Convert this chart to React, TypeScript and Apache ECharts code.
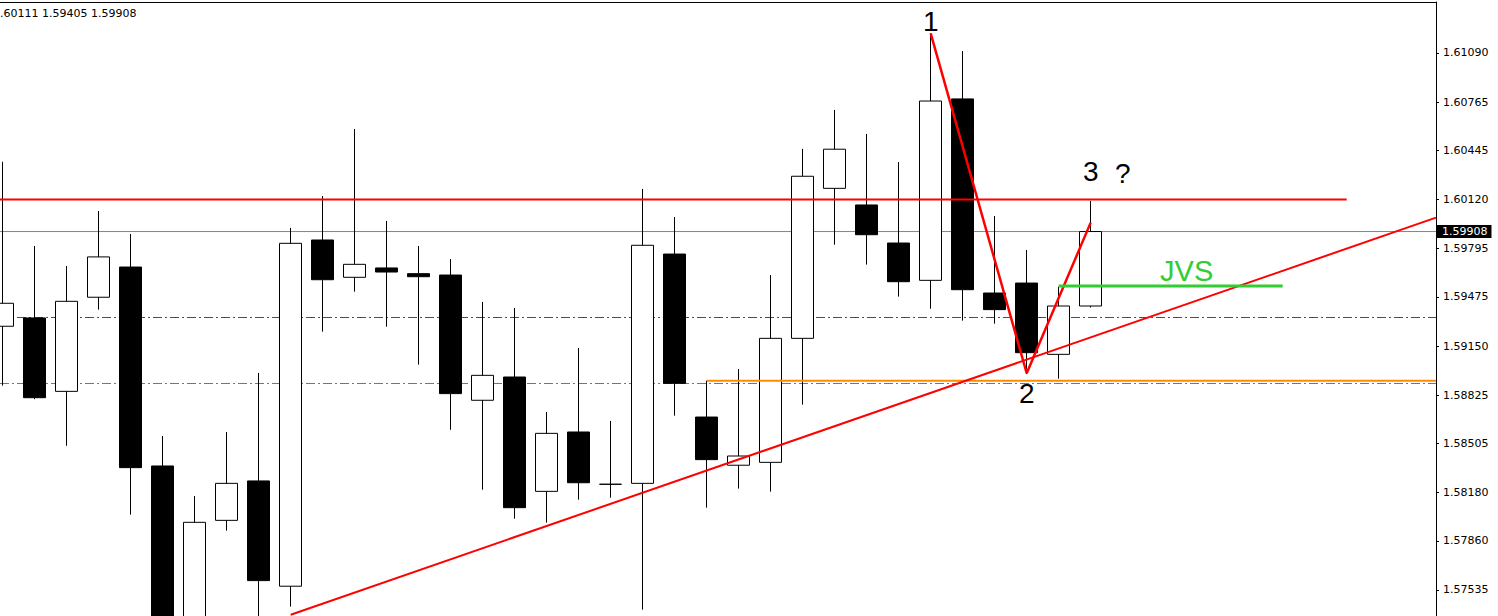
import { useEffect, useRef } from "react";
import * as echarts from "echarts";

// ---- candle data (bar index 0..34) ----
const opens = [1.59281, 1.59336, 1.5885, 1.59473, 1.59673, 1.58356, 1.5727, 1.57996, 1.58257, 1.5756, 1.59852, 1.59605, 1.59667, 1.59629, 1.5962, 1.58791, 1.58945, 1.58188, 1.58581, 1.58235, 1.58241, 1.59759, 1.5868, 1.58361, 1.5838, 1.59201, 1.60194, 1.60084, 1.59832, 1.59585, 1.60786, 1.59501, 1.59567, 1.59095, 1.59415];
const closes = [1.59433, 1.58808, 1.59446, 1.5974, 1.58345, 1.57204, 1.57983, 1.58241, 1.57597, 1.5983, 1.59589, 1.59691, 1.5964, 1.59609, 1.58835, 1.58956, 1.5808, 1.58572, 1.58245, 1.58235, 1.59817, 1.58903, 1.58398, 1.58422, 1.59201, 1.60274, 1.60453, 1.59887, 1.59576, 1.60772, 1.59523, 1.59391, 1.59106, 1.59415, 1.59908];
const lows = [1.58888, 1.58798, 1.5849, 1.59391, 1.58034, 1.57072, 1.57138, 1.57928, 1.5727, 1.57425, 1.59245, 1.5951, 1.59278, 1.59027, 1.58596, 1.58199, 1.58007, 1.57981, 1.58133, 1.58146, 1.57405, 1.58689, 1.5808, 1.58206, 1.58186, 1.58762, 1.59821, 1.59689, 1.59477, 1.59397, 1.59318, 1.59298, 1.58965, 1.58934, 1.59405];
const highs = [1.6037, 1.59812, 1.5968, 1.60044, 1.59892, 1.58555, 1.58157, 1.58581, 1.58972, 1.59932, 1.60143, 1.60587, 1.59978, 1.59812, 1.59726, 1.59442, 1.59402, 1.58713, 1.59137, 1.58654, 1.6019, 1.60004, 1.58921, 1.58998, 1.5962, 1.60455, 1.60713, 1.60554, 1.60368, 1.6122, 1.61103, 1.60011, 1.59786, 1.59543, 1.60111];

// ---- price axis ----
const priceTicks = [1.6109, 1.60765, 1.60445, 1.6012, 1.59795, 1.59475, 1.5915, 1.58825, 1.58505, 1.5818, 1.5786, 1.57535];
const priceMin = 1.573628;
const priceMax = 1.614276;
const barMin = -0.084;
const barMax = 44.791;
const lastPrice = 1.59908;
const headerText = ".60111 1.59405 1.59908";

// ---- drawn objects ----
const resistanceLevel = 1.6012; // red solid
const resistanceEndBar = 42;
const dashLevelRed = 1.59339;
const dashLevelOrange = 1.58902;
const orangeLevel = 1.58921;
const orangeStartBar = 22;
const trendStart = [9, 1.57371];
const trendEnd = [44.79, 1.6];
const zigzag = [
  [29, 1.6122],
  [32, 1.5897],
  [34, 1.59967],
];
const jvsLevel = 1.59547;
const jvsStartBar = 33;
const jvsEndBar = 40;
const annotations = [
  { name: "1", bar: 29, price: 1.61297 },
  { name: "2", bar: 32, price: 1.58839 },
  { name: "3", bar: 34, price: 1.60306 },
  { name: "?", bar: 35, price: 1.60289 },
  { name: "JVS", bar: 37, price: 1.59648 },
];

function seg(name: string, data: number[][], color: string, width: number, z: number, type: any = "solid", extra: any = {}) {
  return {
    name,
    type: "line",
    data,
    symbol: "none",
    silent: true,
    z,
    color,
    lineStyle: { color, width, type, opacity: 1 },
    ...extra,
  };
}

export default function App() {
  const ref = useRef<HTMLDivElement>(null);
  useEffect(() => {
    const chart = echarts.init(ref.current!, null, { renderer: "svg" });
    const candleData = opens.map((o, i) => [i, o, closes[i], lows[i], highs[i]]);
    const axisFont = { fontFamily: "DejaVu Sans", fontSize: 11, color: "#000" };
    chart.setOption({
      animation: false,
      backgroundColor: "#fff",
      grid: { left: 0, right: 62, top: 2, bottom: 0, outerBoundsMode: "none" },
      graphic: [
        {
          type: "text",
          x: 0,
          y: 13,
          style: { text: headerText, font: "11px 'DejaVu Sans'", fill: "#000", textVerticalAlign: "middle" },
        },
      ],
      xAxis: {
        type: "value",
        position: "top",
        min: barMin,
        max: barMax,
        axisLine: { show: true, onZero: false, lineStyle: { color: "#000", width: 1 } },
        axisTick: { show: false },
        axisLabel: { show: false },
        splitLine: { show: false },
      },
      yAxis: {
        type: "value",
        position: "right",
        min: priceMin,
        max: priceMax,
        axisLine: { show: true, onZero: false, lineStyle: { color: "#000", width: 1 } },
        axisTick: { show: true, length: 3, customValues: priceTicks, lineStyle: { color: "#000" } },
        axisLabel: {
          show: true,
          customValues: priceTicks,
          margin: 7,
          formatter: (v: number) => v.toFixed(5),
          ...axisFont,
        },
        splitLine: { show: false },
      },
      series: [
        seg("dashRed", [[barMin, dashLevelRed], [barMax, dashLevelRed]], "#ff0000", 1, 1, [9, 3, 2, 3]),
        seg("dashOrange", [[barMin, dashLevelOrange], [barMax, dashLevelOrange]], "#ff4500", 1, 1, [9, 3, 2, 3]),
        seg("last", [[barMin, lastPrice], [barMax, lastPrice]], "#778899", 1, 1, "solid", {
          endLabel: {
            show: true,
            formatter: lastPrice.toFixed(5),
            color: "#fff",
            backgroundColor: "#000",
            fontFamily: "DejaVu Sans",
            fontSize: 11,
            padding: [1, 4, 1, 6],
            distance: 0,
          },
        }),
        {
          name: "price",
          type: "candlestick",
          data: candleData,
          barWidth: 23,
          z: 2,
          silent: true,
          itemStyle: {
            color: "#ffffff",
            color0: "#000000",
            borderColor: "#000000",
            borderColor0: "#000000",
            borderWidth: 1,
          },
        },
        seg("resistance", [[barMin, resistanceLevel], [resistanceEndBar, resistanceLevel]], "#ff0000", 2, 3),
        seg("orange", [[orangeStartBar, orangeLevel], [barMax, orangeLevel]], "#ff8c00", 2, 3),
        seg("trend", [trendStart, trendEnd], "#ff0000", 2, 3),
        seg("zigzag", zigzag, "#ff0000", 2.5, 3),
        seg("jvs", [[jvsStartBar, jvsLevel], [jvsEndBar, jvsLevel]], "#33cc33", 3, 3),
        {
          name: "labels",
          type: "scatter",
          z: 4,
          silent: true,
          symbol: "circle",
          symbolSize: 1,
          itemStyle: { color: "rgba(0,0,0,0)" },
          data: annotations.map((a) => ({
            name: a.name,
            value: [a.bar, a.price],
            label: {
              show: true,
              position: "inside",
              formatter: "{b}",
              fontFamily: "Liberation Sans",
              fontSize: a.name === "JVS" ? 29 : 28,
              fontWeight: "normal",
              color: a.name === "JVS" ? "#33cc33" : "#000000",
              textBorderWidth: 0,
              textBorderColor: "transparent",
              opacity: 1,
            },
          })),
        },
      ],
    });
    return () => chart.dispose();
  }, []);
  return <div ref={ref} style={{ position: "absolute", left: 0, top: 0, width: 1498, height: 616 }} />;
}
